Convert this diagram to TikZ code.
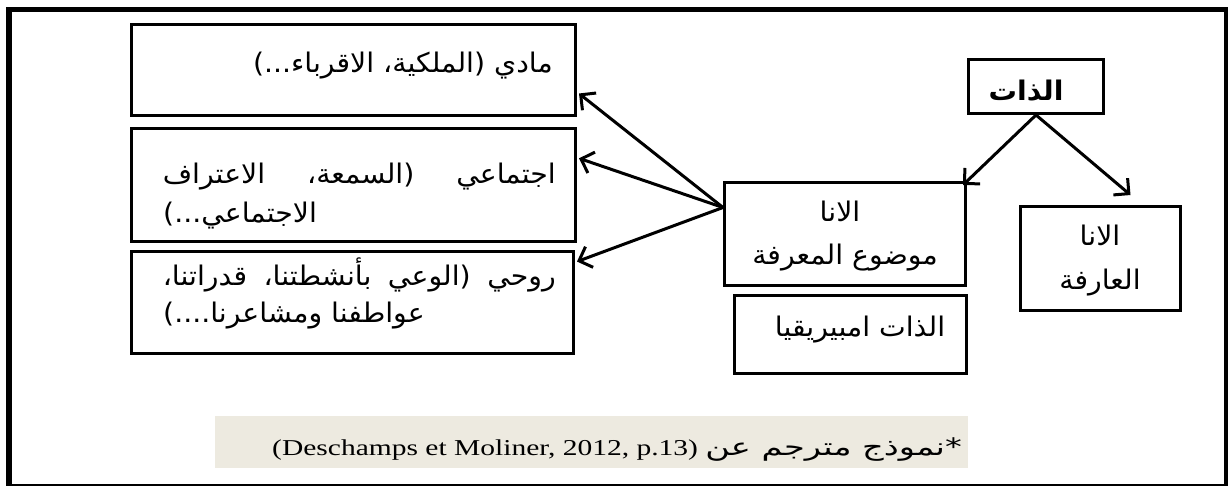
\documentclass[tikz,border=0pt]{standalone}
\usepackage{fontspec}
\usetikzlibrary{arrows.meta,calc,shadows}
\TeXXeTstate=1
\newfontfamily\arabicfont[Script=Arabic,FakeStretch=1.05]{DejaVu Sans}
\newfontfamily\notearabic[Script=Arabic,FakeStretch=1.4]{DejaVu Sans}
\newfontfamily\latinserif[FakeStretch=1.3]{Liberation Serif}
\definecolor{capbg}{RGB}{237,234,224}

\begin{document}
\begin{tikzpicture}[x=1pt,y=-1pt,
  box/.style={draw=black,line width=3pt,fill=white,inner sep=0pt,
    drop shadow={shadow xshift=1.5pt,shadow yshift=-1.5pt,opacity=0.25,fill=black}},
  arline/.style={font=\arabicfont\fontsize{27}{32}\selectfont,inner sep=0pt},
  link/.style={line width=3pt,-{Straight Barb[length=11pt,width=22pt]}},
]
\useasboundingbox (0,0) rectangle (1228,485);

% outer frame
\draw[line width=5.5pt] (9,9.5) rectangle (1227,487);

% boxes
\node[box,minimum width=444pt,minimum height=91pt]  (b1) at (353.5,70)   {};
\node[box,minimum width=444pt,minimum height=113pt] (b2) at (353.5,185)  {};
\node[box,minimum width=442pt,minimum height=102pt] (b3) at (352.5,302.5) {};
\node[box,minimum width=241pt,minimum height=103pt] (bm) at (845,234)    {};
\node[box,minimum width=232pt,minimum height=78pt]  (be) at (850.5,334.5) {};
\node[box,minimum width=135pt,minimum height=54pt]  (bs) at (1036,86.5)  {};
\node[box,minimum width=160pt,minimum height=104pt] (bk) at (1100.5,258.5) {};

% box texts (full lines are justified across the box)
\node[arline,anchor=base east] (t1)  at (553,72)  {\beginR مادي (الملكية، الاقرباء...)\endR};
\node[arline,anchor=base east] (t2a) at (556,183) {\hbox to 393pt{\beginR اجتماعي (السمعة، الاعتراف\endR}};
\node[arline,anchor=base west] (t2b) at (163,222) {\beginR الاجتماعي...)\endR};
\node[arline,anchor=base east] (t3a) at (556,285) {\hbox to 393pt{\beginR روحي (الوعي بأنشطتنا، قدراتنا،\endR}};
\node[arline,anchor=base west] (t3b) at (163,322) {\beginR عواطفنا ومشاعرنا....)\endR};
\node[arline,anchor=base] (tm1) at (840,221) {\beginR الانا\endR};
\node[arline,anchor=base] (tm2) at (845,264) {\beginR موضوع المعرفة\endR};
\node[arline,anchor=base] (te)  at (860,336) {\beginR الذات امبيريقيا\endR};
\node[arline,anchor=base] (ts)  at (1026,100) {\bfseries\beginR الذات\endR};
\node[arline,anchor=base] (tk1) at (1100,245) {\beginR الانا\endR};
\node[arline,anchor=base] (tk2) at (1100,289) {\beginR العارفة\endR};

% connectors
\coordinate (src) at ($(bm.north west)!0.25!(bm.south west)$);
\draw[link] (src) -- ($(b1.north east)!0.75!(b1.south east)+(2,0)$);
\draw[link] (src) -- ($(b2.north east)!0.27!(b2.south east)+(2,0)$);
\draw[link] (src) -- ($(b3.north east)!0.11!(b3.south east)+(2,0)$);
\draw[link] (bs.south) -- ($(bm.north east)+(-4,4)$);
\draw[link] (bs.south) -- ($(bk.north)+(30,-10)$);

% source note
\node[fill=capbg,minimum width=753pt,minimum height=52pt,inner sep=0pt] (cap) at (591.5,442) {};
\node[anchor=base east,inner sep=0pt] (capt) at (962,455)
  {{\latinserif\fontsize{22.7}{26}\selectfont (Deschamps et Moliner, 2012, p.13) }%
   {\notearabic\fontsize{24}{28}\selectfont\beginR *نموذج مترجم عن\endR}};
\end{tikzpicture}
\end{document}
